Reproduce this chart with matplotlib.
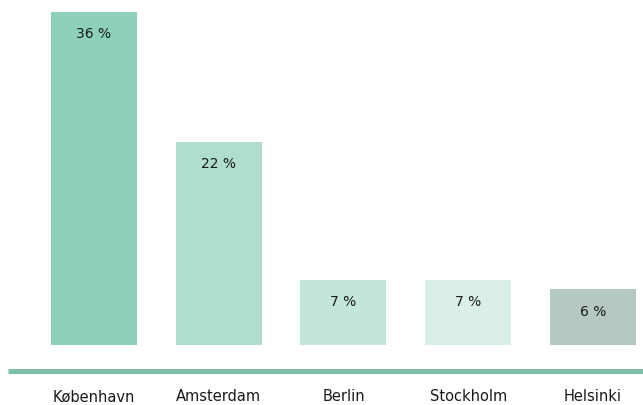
import matplotlib
matplotlib.use('Agg')
import matplotlib.pyplot as plt

cities = ['København', 'Amsterdam', 'Berlin', 'Stockholm', 'Helsinki']
shares = [36, 22, 7, 7, 6]
labels = ['36 %', '22 %', '7 %', '7 %', '6 %']
colors = ['#8dd1bb', '#afdecd', '#c4e6da', '#d9efe7', '#b5c9c2']

plt.rcParams['font.family'] = ['DejaVu Sans']

fig = plt.figure(figsize=(6.43, 4.05), dpi=100)
ax = fig.add_axes([0, 0, 1, 1])

x = list(range(len(cities)))
bars = ax.bar(x, shares, width=0.69, color=colors)

for b, lab in zip(bars, labels):
    ax.annotate(lab, (b.get_x() + b.get_width() / 2, b.get_height()),
                xytext=(0, -16), textcoords='offset points',
                ha='center', va='center', fontsize=10, color='#1a1a1a')

# baseline
ax.plot([-0.689, 4.401], [-2.86, -2.86], color='#7fbfa8', lw=3.6,
        solid_capstyle='butt')

for xi, c in zip(x, cities):
    ax.text(xi, -5.62, c, ha='center', va='center', fontsize=10.5, color='#1a1a1a')

ax.set_xlim(-0.753, 4.401)
ax.set_ylim(-6.49, 37.3)
ax.axis('off')

fig.savefig('out.png', dpi=100)
